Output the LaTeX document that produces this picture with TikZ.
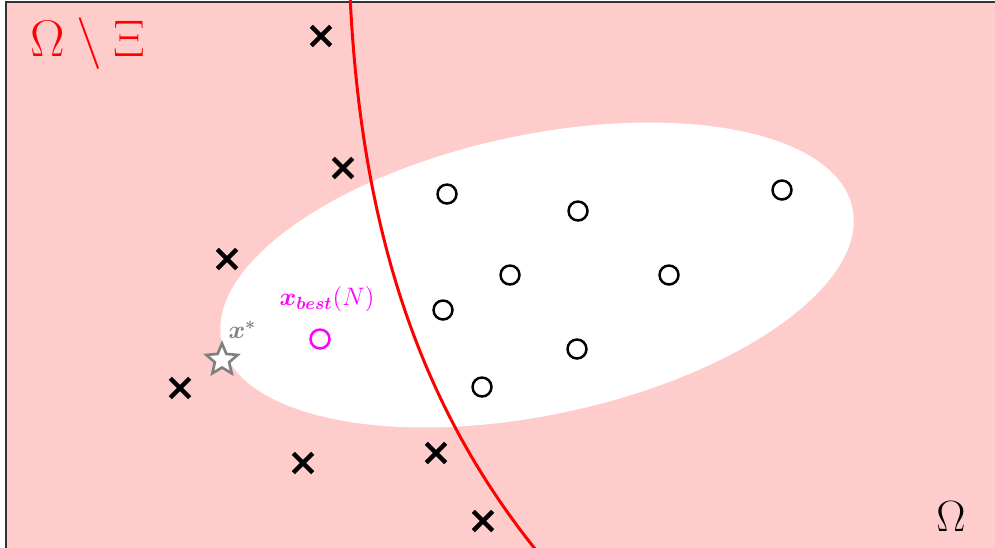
\documentclass[tikz,border=0pt]{standalone}
\usepackage{amsmath,amssymb,bm}
\usetikzlibrary{shapes.geometric, shapes.misc, positioning}
\definecolor{spink}{HTML}{FFCCCC}
\definecolor{sframe}{HTML}{333333}
\definecolor{sred}{HTML}{FF0000}
\definecolor{smag}{HTML}{FF00FF}
\definecolor{sgray}{HTML}{808080}
\tikzset{
  xmark/.style={cross out, draw=black, line width=2.5pt, minimum size=0.3cm, inner sep=0pt},
  omark/.style={circle, draw=black, line width=1.4pt, minimum size=0.38cm, inner sep=0pt},
  bestmark/.style={omark, draw=smag},
  optmark/.style={star, star points=5, star point ratio=2.2, draw=sgray, line width=1.5pt,
                  fill=white, minimum size=0.66cm, inner sep=0pt},
  setlabel/.style={font=\Huge, inner sep=0pt},
  ptlabel/.style={font=\Large, inner sep=0pt},
}

\begin{document}
\begin{tikzpicture}[x=0.02cm, y=-0.02cm]
  \useasboundingbox (0,0) rectangle (995,548);
  \clip (0,0) rectangle (995,548);

  %% Domain and feasible region
  \fill[spink] (6,2) rectangle (1010,560);
  \draw[sframe, line width=1.2pt] (6,2) rectangle (1010,560);
  \fill[white, rotate around={12:(537,275)}] (537,275) ellipse [x radius=6.45cm, y radius=2.8cm];

  %% Constraint boundary
  \draw[sred, line width=1.7pt] (350,-5) .. controls (362,250) and (430,420) .. (540,555);

  %% Infeasible samples
  \foreach \name/\px/\py in {a/321/36, b/343/168, c/227/259, d/180/388,
                             e/303/463, f/436/453, g/483/521}
    \node[xmark] (x\name) at (\px,\py) {};

  %% Feasible samples
  \foreach \name/\px/\py in {a/447/194, b/578/211, c/782/190, d/510/275,
                             e/669/275, f/443/310, g/577/349, h/482/387}
    \node[omark] (o\name) at (\px,\py) {};

  %% Best point and optimum
  \node[bestmark] (best) at (320,339) {};
  \node[ptlabel, text=smag, above=0.32cm of best, xshift=0.14cm] (bestlbl) {$\boldsymbol{x_{best}}(N)$};
  \node[optmark] (opt) at (222,360) {};
  \node[ptlabel, text=sgray, above right=0.28cm and -0.02cm of opt] (optlbl) {$\boldsymbol{x^{*}}$};

  %% Set labels
  \node[setlabel, text=sred] (outer) at (88,44) {\scalebox{1.18}{$\Omega \mathbin{\setminus} \Xi$}};
  \node[setlabel, text=black] (dom) at (951,517) {$\Omega$};
\end{tikzpicture}
\end{document}
